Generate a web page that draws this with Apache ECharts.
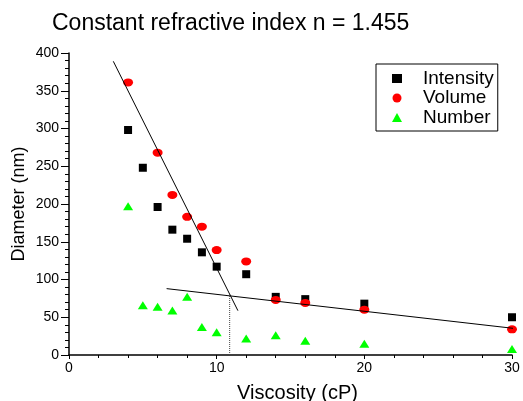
<!DOCTYPE html>
<html>
<head>
<meta charset="utf-8">
<script src="https://cdn.jsdelivr.net/npm/echarts@6/dist/echarts.min.js"></script>
<style>
  html, body { margin: 0; padding: 0; background: #fff; }
  #chart { width: 523px; height: 401px; }
</style>
</head>
<body>
<div id="chart"></div>
<script>
// viscosity (cP) vs diameter (nm)
const intensity = [[4, 298], [5, 248], [6, 196], [7, 166], [8, 154], [9, 136], [10, 117], [12, 107], [14, 77], [16, 74], [20, 68], [30, 50]]
const volume = [[4, 361], [6, 268], [7, 212], [8, 183], [9, 170], [10, 139], [12, 124], [14, 73], [16, 69], [20, 60], [30, 34]]
const number = [[4, 197], [5, 66], [6, 64], [7, 59], [8, 77], [9, 37], [10, 30], [12, 22], [14, 26], [16, 19], [20, 15], [30, 8]]

// fitted lines and the crossing marker
const fitSteep = [[3, 389], [11.44, 58.7]]
const fitShallow = [[6.61, 87.9], [30.5, 34.4]]
const crossing = [[10.88, 0], [10.88, 80.8]]

const font = 'Liberation Sans, Arial, sans-serif'
const chart = echarts.init(document.getElementById('chart'))

const axisCommon = {
  axisLine: { lineStyle: { color: '#000', width: 1.5 } },
  axisTick: { lineStyle: { color: '#000' }, length: 5 },
  minorTick: { show: true, splitNumber: 5, length: 3, lineStyle: { color: '#000' } },
  splitLine: { show: false },
  axisLabel: { color: '#000', fontSize: 14, fontFamily: font, margin: 4 },
  nameTextStyle: { color: '#000', fontSize: 20, fontFamily: font }
}

chart.setOption({
  animation: false,
  title: {
    text: 'Constant refractive index n = 1.455',
    left: 52,
    top: 12,
    padding: 0,
    textStyle: { color: '#000', fontSize: 23, fontWeight: 'normal', fontFamily: font }
  },
  legend: {
    orient: 'vertical',
    left: 376,
    top: 64,
    padding: [5, 4, 4, 16],
    itemWidth: 10,
    itemHeight: 9,
    itemGap: 0.5,
    borderColor: '#000',
    borderWidth: 1,
    data: [
      { name: 'Intensity', icon: 'rect' },
      { name: 'Volume', icon: 'circle' },
      { name: 'Number', icon: 'triangle' }
    ],
    textStyle: { color: '#000', fontSize: 19, lineHeight: 19, fontFamily: font, padding: [0, 0, 0, 16] }
  },
  grid: { left: 69, right: 11, top: 53, bottom: 46, containLabel: false, outerBoundsMode: 'none' },
  xAxis: {
    ...axisCommon,
    type: 'value',
    min: 0,
    max: 30,
    interval: 10,
    axisTick: { ...axisCommon.axisTick, length: 4 },
    axisLabel: { ...axisCommon.axisLabel, margin: 6 },
    name: 'Viscosity (cP)',
    nameLocation: 'middle',
    nameGap: 28,
    nameMoveOverlap: false,
    nameTextStyle: { ...axisCommon.nameTextStyle, padding: [0, 0, 0, 14] }
  },
  yAxis: {
    ...axisCommon,
    type: 'value',
    min: 0,
    max: 400,
    interval: 50,
    axisTick: { ...axisCommon.axisTick, length: 8 },
    minorTick: { ...axisCommon.minorTick, length: 4 },
    axisLabel: { ...axisCommon.axisLabel, margin: 10 },
    name: 'Diameter (nm)',
    nameLocation: 'middle',
    nameGap: 41,
    nameMoveOverlap: false,
    nameTextStyle: { ...axisCommon.nameTextStyle, fontSize: 18 }
  },
  series: [
    {
      name: 'Intensity',
      type: 'scatter',
      symbol: 'rect',
      symbolSize: 8,
      itemStyle: { color: '#000', opacity: 1 },
      data: intensity,
      z: 3
    },
    {
      name: 'Volume',
      type: 'scatter',
      symbol: 'circle',
      symbolSize: [10, 8],
      itemStyle: { color: '#ff0000', opacity: 1 },
      data: volume,
      z: 4
    },
    {
      name: 'Number',
      type: 'scatter',
      symbol: 'triangle',
      symbolSize: [10, 8],
      itemStyle: { color: '#00ff00', opacity: 1 },
      data: number,
      z: 3
    },
    {
      type: 'line',
      data: fitSteep,
      showSymbol: false,
      clip: false,
      lineStyle: { color: '#000', width: 1 },
      z: 5
    },
    {
      type: 'line',
      data: fitShallow,
      showSymbol: false,
      clip: false,
      lineStyle: { color: '#000', width: 1 },
      z: 5
    },
    {
      type: 'line',
      data: crossing,
      showSymbol: false,
      lineStyle: { color: '#444', width: 1, type: [1, 1] },
      z: 5
    }
  ]
})
</script>
</body>
</html>
